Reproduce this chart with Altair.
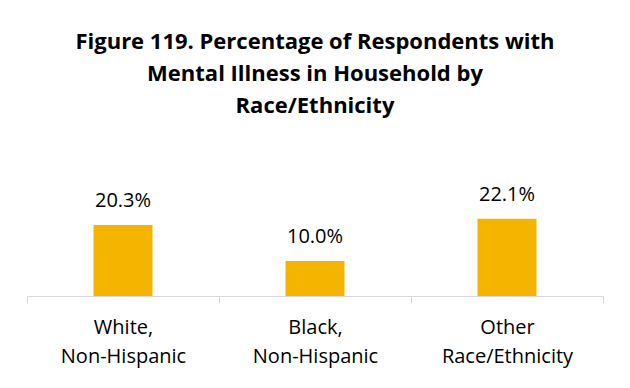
import altair as alt
import pandas as pd

categories = ["White,|Non-Hispanic", "Black,|Non-Hispanic", "Other|Race/Ethnicity"]
values = [20.3, 10.0, 22.1]
value_labels = ["20.3%", "10.0%", "22.1%"]
title_lines = [
    "Figure 119. Percentage of Respondents with",
    "Mental Illness in Household by",
    "Race/Ethnicity",
]

FONT = "Open Sans"
BAR_COLOR = "#F5B400"

df = pd.DataFrame({"category": categories, "value": values, "label": value_labels})

x = alt.X(
    "category:N",
    sort=categories,
    scale=alt.Scale(paddingInner=0, paddingOuter=0),
    axis=alt.Axis(
        title=None,
        labelExpr="datum.value ? split(datum.value, '|') : ''",
        labelAngle=0,
        labelFont=FONT,
        labelFontSize=20,
        labelColor="#000000",
        labelLineHeight=29,
        labelPadding=14,
        tickBand="extent",
        tickSize=7,
        tickColor="#D9D9D9",
        domainColor="#D9D9D9",
        tickWidth=1,
        domainWidth=1,
        grid=False,
    ),
)
y = alt.Y("value:Q", scale=alt.Scale(domain=[0, 40]), axis=None)

bars = alt.Chart(df).mark_bar(size=59, color=BAR_COLOR).encode(x=x, y=y)
texts = alt.Chart(df).mark_text(
    font=FONT, fontSize=20, color="#000000", dy=-18, baseline="alphabetic"
).encode(x=x, y=y, text="label:N")

chart = (
    alt.layer(bars, texts)
    .properties(
        width=576,
        height=140,
        title=alt.TitleParams(
            text=title_lines,
            font=FONT,
            fontSize=22,
            fontWeight="bold",
            color="#000000",
            anchor="middle",
            lineHeight=32,
            offset=38,
        ),
        view=alt.ViewBackground(strokeOpacity=0, strokeWidth=0),
        autosize=alt.AutoSizeParams(type="none"),
        padding={"left": 19, "top": 148, "right": 19, "bottom": 84},
    )
    .configure_view(strokeWidth=0, strokeOpacity=0)
    .configure(background="#FFFFFF")
)

chart.save("out.html", embed_options={"renderer": "svg", "actions": False})
